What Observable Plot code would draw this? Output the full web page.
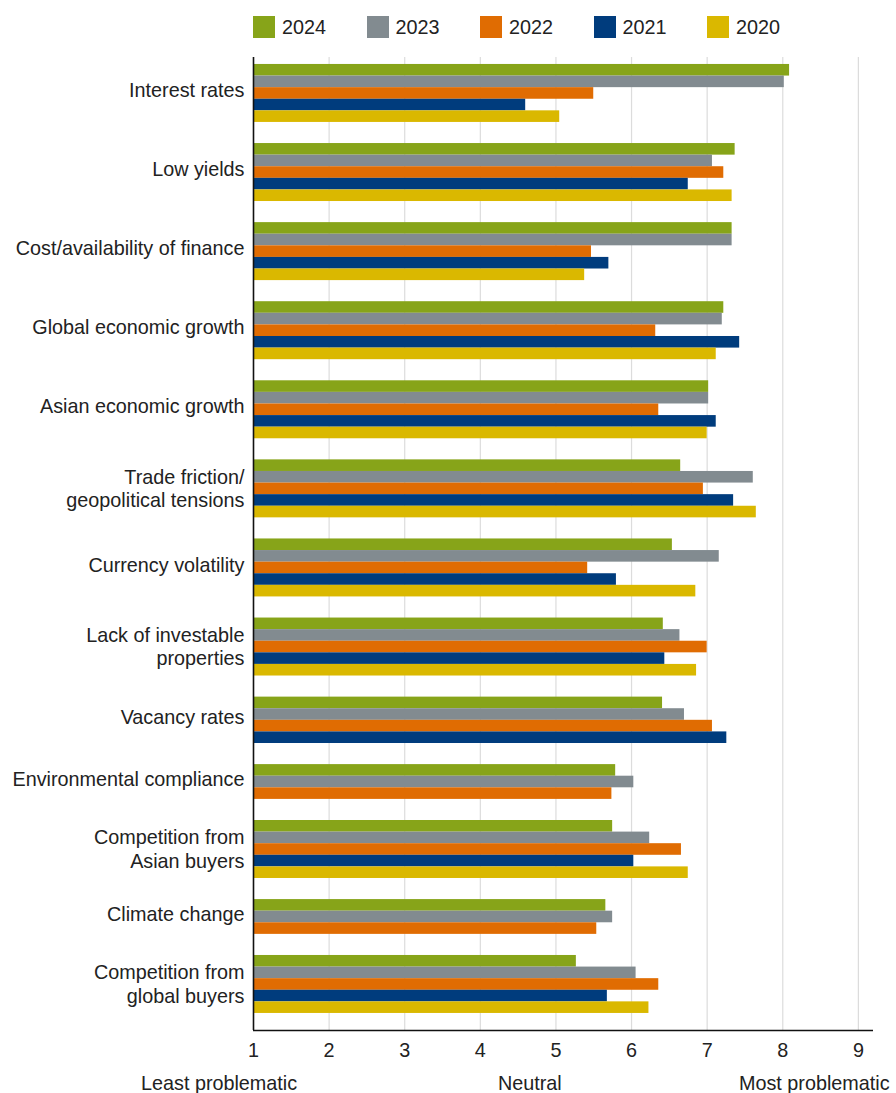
<!DOCTYPE html>
<html>
<head>
<meta charset="utf-8">
<script src="https://cdn.jsdelivr.net/npm/d3@7"></script>
<script src="https://cdn.jsdelivr.net/npm/@observablehq/plot@0.6"></script>
<style>
  html, body { margin: 0; padding: 0; background: #fff; }
  body { width: 896px; height: 1093px; overflow: hidden; position: relative;
         font-family: "Liberation Sans", Arial, Helvetica, sans-serif; color: #222; }
  #legend { height: 48px; box-sizing: border-box; padding-top: 16px; padding-left: 253px; display: flex; }
  .item { width: 113.5px; display: flex; align-items: center; height: 22px; font-size: 19.8px; }
  .sw { width: 22px; height: 22px; margin-right: 7px; flex: none; }
  #chart { height: 1020px; }
  #caption { position: absolute; top: 1071px; left: 0; width: 896px; height: 24px; font-size: 19.8px; line-height: 24px; }
  #caption span { position: absolute; white-space: nowrap; }
</style>
</head>
<body>
<div id="legend"></div>
<div id="chart"></div>
<div id="caption"></div>
<script>
// ---- data ----
const categories = [
  "Interest rates",
  "Low yields",
  "Cost/availability of finance",
  "Global economic growth",
  "Asian economic growth",
  "Trade friction/\ngeopolitical tensions",
  "Currency volatility",
  "Lack of investable\nproperties",
  "Vacancy rates",
  "Environmental compliance",
  "Competition from\nAsian buyers",
  "Climate change",
  "Competition from\nglobal buyers"
];
const years = ["2024", "2023", "2022", "2021", "2020"];
const colors = ["#87a419", "#828b90", "#e06c02", "#003c7d", "#dab800"];
const v2024 = [8.09, 7.37, 7.33, 7.22, 7.02, 6.65, 6.54, 6.42, 6.41, 5.79, 5.75, 5.66, 5.27];
const v2023 = [8.02, 7.07, 7.33, 7.20, 7.02, 7.61, 7.16, 6.64, 6.70, 6.03, 6.24, 5.75, 6.06];
const v2022 = [5.50, 7.22, 5.47, 6.32, 6.36, 6.95, 5.42, 7.00, 7.07, 5.74, 6.66, 5.54, 6.36];
const v2021 = [4.60, 6.75, 5.70, 7.43, 7.12, 7.35, 5.80, 6.44, 7.26, null, 6.03, null, 5.68];
const v2020 = [5.05, 7.33, 5.38, 7.12, 7.00, 7.65, 6.85, 6.86, null, null, 6.75, null, 6.23];
const xTicks = [1, 2, 3, 4, 5, 6, 7, 8, 9];
const bottomLabels = ["Least problematic", "Neutral", "Most problematic"];

// ---- layout of rows (bars stacked with gaps between groups) ----
const series = [v2024, v2023, v2022, v2021, v2020];
const GAP = 1.82;
const rows = [];
const groups = [];
let pos = 0;
categories.forEach((cat, i) => {
  const start = pos;
  years.forEach((yr, j) => {
    const v = series[j][i];
    if (v != null) {
      rows.push({category: cat, year: yr, value: v, y1: pos, y2: pos + 1});
      pos += 1;
    }
  });
  groups.push({label: cat, mid: (start + pos) / 2, multi: cat.includes("\n")});
  if (i < categories.length - 1) pos += GAP;
});
const yMin = -0.6, yMax = pos + 1.47;

// ---- legend ----
const legend = document.getElementById("legend");
years.forEach((yr, j) => {
  const it = document.createElement("div");
  it.className = "item";
  const sw = document.createElement("span");
  sw.className = "sw";
  sw.style.background = colors[j];
  it.appendChild(sw);
  it.appendChild(document.createTextNode(yr));
  legend.appendChild(it);
});

// ---- chart ----
const labelOpts = {frameAnchor: "left", y: "mid", text: "label", textAnchor: "end", dx: -9, lineHeight: 1.2, fontSize: 19.8, fill: "#222"};
const chart = Plot.plot({
  width: 896,
  height: 1020,
  marginTop: 9,
  marginBottom: 38,
  marginLeft: 253,
  marginRight: 23,
  style: {fontFamily: "'Liberation Sans', Arial, Helvetica, sans-serif", fontSize: "19.8px", color: "#222", background: "#fff"},
  x: {domain: [1, 9.2], axis: null},
  y: {domain: [yMin, yMax], reverse: true, axis: null},
  color: {domain: years, range: colors},
  marks: [
    Plot.ruleX(xTicks.slice(1), {stroke: "#dcdcdc", strokeWidth: 1.2}),
    Plot.rect(rows, {x1: () => 1, x2: "value", y1: "y1", y2: "y2", fill: "year", inset: 0}),
    Plot.ruleX([1], {stroke: "#111", strokeWidth: 1.6}),
    Plot.ruleY([yMax], {stroke: "#111", strokeWidth: 1.6}),
    Plot.axisX({ticks: xTicks, tickSize: 0, tickPadding: 12, fontSize: 19.8, fill: "#222", label: null, tickFormat: d => String(d)}),
    Plot.text(groups.filter(g => !g.multi), {...labelOpts, dy: -4}),
    Plot.text(groups.filter(g => g.multi), {...labelOpts, dy: -1})
  ]
});
document.getElementById("chart").appendChild(chart);

// ---- bottom captions ----
const cap = document.getElementById("caption");
const capLeft = [141, 498, 739];
bottomLabels.forEach((t, i) => {
  const s = document.createElement("span");
  s.textContent = t;
  s.style.left = capLeft[i] + "px";
  cap.appendChild(s);
});
</script>
</body>
</html>
